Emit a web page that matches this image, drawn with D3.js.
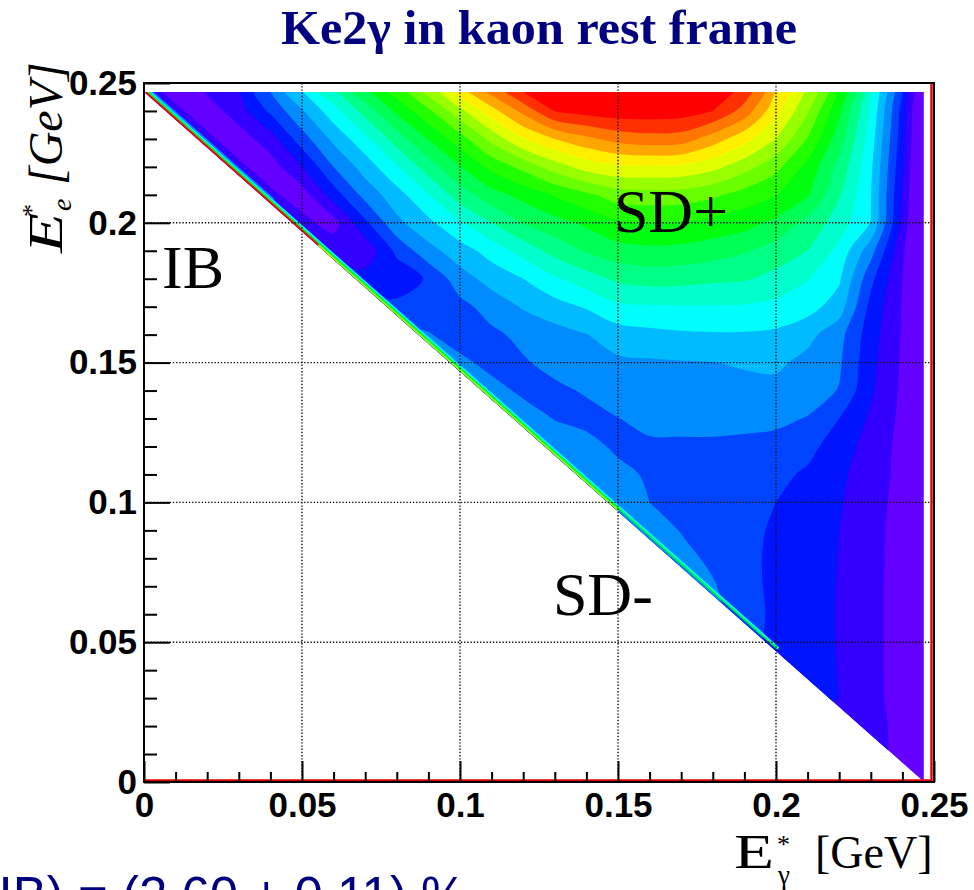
<!DOCTYPE html>
<html>
<head>
<meta charset="utf-8">
<script src="https://cdn.jsdelivr.net/npm/d3@7"></script>
<style>
  html, body { margin: 0; padding: 0; background: #fff; }
  svg { display: block; }
</style>
</head>
<body>
<svg id="chart" width="974" height="890"></svg>
<script>
// Grid nodes of the Dalitz plane in the kaon rest frame (GeV)
const eGammaNodes = [0.00, 0.01, 0.02, 0.03, 0.04, 0.05, 0.06, 0.07, 0.08, 0.09, 0.10, 0.11, 0.12,
                     0.13, 0.14, 0.15, 0.16, 0.17, 0.18, 0.19, 0.20, 0.21, 0.22, 0.23, 0.24, 0.25];
const eElectronNodes = [0.25, 0.24, 0.23, 0.22, 0.21, 0.20, 0.19, 0.18, 0.17, 0.16, 0.15, 0.14, 0.13,
                        0.12, 0.11, 0.10, 0.09, 0.08, 0.07, 0.06, 0.05, 0.04, 0.03, 0.02, 0.01, 0.00];
// Common endpoint of the photon and electron spectra
const endpoint = 0.2468;

// Density in contour-level units. One row per electron energy; each row starts at the
// node next to the kinematic boundary and runs to E_gamma = 0.25.
const ee250 = [1.3, 0.4, 1.4, 2.2, 4.4, 6.4, 8.35, 10.3, 12.05, 14.1, 16.35, 18.1, 19.8, 19.7, 20.0, 20.05, 20.05, 19.95, 19.6, 19.0, 16.25, 14.1, 11.2, 7.2, 2.75, -2.2];
const ee240 = [1.8, 1.2, 0.5, 1.5, 3.2, 4.9, 6.6, 8.4, 10.2, 11.8, 13.7, 15.6, 17.3, 19.05, 19.4, 19.6, 19.6, 19.5, 19.0, 17.6, 15.3, 13.1, 10.2, 6.85, 2.6, -2.5];
const ee230 = [1.8, 1.2, 0.5, 1.55, 3.55, 5.25, 6.7, 8.5, 10.05, 11.55, 13.3, 14.95, 16.0, 16.75, 17.36, 17.6, 17.5, 16.5, 15.35, 14.0, 11.95, 9.45, 6.5, 2.4, -2.5];
const ee220 = [1.8, 1.2, 0.5, 1.95, 4.0, 5.45, 6.9, 8.5, 9.95, 11.3, 12.3, 13.5, 14.4, 14.83, 14.9, 14.8, 14.3, 13.4, 12.3, 10.7, 8.7, 6.2, 2.15, -2.5];
const ee210 = [1.8, 1.2, 0.5, 2.5, 4.35, 5.6, 6.95, 8.5, 9.6, 10.35, 11.1, 11.8, 12.5, 12.6, 12.55, 12.2, 11.6, 11.05, 10.1, 8.1, 6.05, 1.9, -2.5];
const ee200 = [1.9, 1.3, 0.6, 2.8, 4.75, 5.75, 6.9, 8.0, 9.05, 9.65, 10.2, 10.87, 11.0, 10.95, 10.7, 10.4, 9.75, 8.7, 7.5, 5.95, 1.7, -2.5];
const ee190 = [2.1, 1.7, 1.3, 3.25, 4.65, 5.55, 6.4, 7.4, 8.35, 9.1, 9.6, 9.75, 9.7, 9.45, 9.1, 8.55, 8.0, 6.73, 4.4, 1.17, -1.5];
const ee180 = [2.6, 2.4, 2.3, 3.15, 4.55, 5.4, 6.0, 6.85, 7.55, 8.2, 8.4, 8.35, 8.2, 8.1, 7.7, 7.05, 6.15, 3.27, 1.0, -1.5];
const ee170 = [3.4, 3.3, 3.1, 3.7, 4.4, 5.1, 5.6, 6.1, 6.8, 6.9, 6.95, 6.95, 6.9, 6.7, 6.4, 5.5, 2.7, 0.95, -1.5];
const ee160 = [4.3, 4.1, 3.4, 3.8, 4.25, 4.6, 4.97, 5.5, 5.7, 5.85, 5.9, 5.9, 5.8, 5.3, 4.35, 2.45, 0.9, -1.5];
const ee150 = [4.6, 4.3, 3.6, 3.9, 4.3, 4.6, 4.81, 4.88, 4.93, 4.98, 5.1, 5.2, 4.7, 4.15, 2.3, 0.85, -1.5];
const ee140 = [4.7, 4.45, 3.75, 3.8, 4.1, 4.5, 4.6, 4.65, 4.7, 4.72, 4.7, 4.45, 3.95, 2.15, 0.8, -1.5];
const ee130 = [4.8, 4.6, 3.95, 3.7, 3.98, 4.25, 4.28, 4.28, 4.25, 4.2, 3.95, 3.0, 1.85, 0.75, -1.5];
const ee120 = [4.9, 4.7, 4.35, 3.8, 3.85, 3.85, 3.85, 3.8, 3.7, 3.3, 2.5, 1.6, 0.7, -1.5];
const ee110 = [4.9, 4.7, 4.3, 3.85, 3.7, 3.6, 3.45, 3.25, 2.85, 2.2, 1.5, 0.7, -1.3];
const ee100 = [4.9, 4.75, 4.0, 3.7, 3.5, 3.3, 3.0, 2.53, 2.09, 1.4, 0.65, -1.2];
const ee090 = [4.8, 4.5, 3.95, 3.6, 3.3, 2.85, 2.43, 2.0, 1.33, 0.6, -1.2];
const ee080 = [4.6, 4.3, 3.8, 3.25, 2.8, 2.4, 1.98, 1.3, 0.6, -1.2];
const ee070 = [4.3, 4.1, 3.35, 2.75, 2.38, 1.96, 1.28, 0.6, -1.2];
const ee060 = [4.2, 3.5, 2.75, 2.35, 1.95, 1.28, 0.6, -1.2];
const ee050 = [3.2, 2.8, 2.35, 1.96, 1.28, 0.6, -1.2];
const ee040 = [2.6, 2.38, 1.97, 1.28, 0.6, -1.2];
const ee030 = [2.3, 2.0, 1.3, 0.6, -1.2];
const ee020 = [1.8, 1.4, 0.65, -1.2];
const ee010 = [1.3, 0.7, -1.2];
const ee000 = [0.8, -1.0];
const densityRows = [ee250, ee240, ee230, ee220, ee210, ee200, ee190, ee180, ee170, ee160, ee150, ee140, ee130,
                     ee120, ee110, ee100, ee090, ee080, ee070, ee060, ee050, ee040, ee030, ee020, ee010, ee000];

// Contour levels and their colours (violet -> red)
const levelThresholds = [1, 2, 3, 4, 5, 6, 7, 8, 9, 10, 11, 12, 13, 14, 15, 16, 17, 18, 19];
const levelColors = ["#6300ff", "#3300ff", "#0014ff", "#0044ff", "#008bff", "#00bbff", "#00fffc", "#00ffcc",
                     "#00ff85", "#00ff55", "#00ff0e", "#22ff00", "#69ff00", "#99ff00", "#e0ff00", "#ffee00",
                     "#ffa700", "#ff7700", "#ff3000", "#ff0000"];

// Narrow inner-bremsstrahlung ridge along the boundary: level, E_gamma range, lane from the edge
const ridgeLevel = [19, 13, 10, 6, 4];
const ridgeFrom  = [0.000, 0.055, 0.000, 0.000, 0.000];
const ridgeTo    = [0.060, 0.150, 0.200, 0.200, 0.040];
const ridgeLane  = [0, 0, 1, 2, 3];

// Axes
const majorTicks = [0, 0.05, 0.1, 0.15, 0.2, 0.25];
const majorTickLabels = ["0", "0.05", "0.1", "0.15", "0.2", "0.25"];
const minorTicks = [0.01, 0.02, 0.03, 0.04, 0.06, 0.07, 0.08, 0.09, 0.11, 0.12, 0.13, 0.14,
                    0.16, 0.17, 0.18, 0.19, 0.21, 0.22, 0.23, 0.24];
const gridValues = [0.05, 0.1, 0.15, 0.2];

// Region names and their anchor points (E_gamma, E_e) in GeV
const regionNames = ["IB", "SD+", "SD-"];
const regionEGamma = [0.0057, 0.1487, 0.1294];
const regionEe = [0.1767, 0.1967, 0.0597];

const titleText = "Ke2\u03b3 in kaon rest frame";
const resultText = "R(SD+/IB) = (2.60 \u00b1 0.11) %";

// ---------------------------------------------------------------------------
const svg = d3.select("#chart");
const x = d3.scaleLinear().domain([0, 0.25]).range([144, 934]);
const y = d3.scaleLinear().domain([0, 0.25]).range([782, 83]);

const nx = eGammaNodes.length, ny = eElectronNodes.length;
const values = new Array(nx * ny);
densityRows.forEach((row, r) => {
  const offset = nx - row.length;          // nodes beyond the boundary repeat the first value
  for (let i = 0; i < nx; i++) values[r * nx + i] = row[Math.max(0, i - offset)];
});

// grid coordinates of d3.contours -> energies -> screen
const gx = d3.scaleLinear().domain([0.5, nx - 0.5]).range([eGammaNodes[0], eGammaNodes[nx - 1]]);
const gy = d3.scaleLinear().domain([0.5, ny - 0.5]).range([eElectronNodes[0], eElectronNodes[ny - 1]]);
const ringLine = d3.line().curve(d3.curveCatmullRomClosed.alpha(0.5));
function bandPath(contour) {
  return contour.coordinates.map(polygon => polygon.map(ring =>
    ringLine(ring.slice(0, -1).map(([u, v]) => [x(gx(u)), y(gy(v))]))
  ).join("")).join("");
}

const defs = svg.append("defs");
const boundary = [[0, endpoint], [endpoint, endpoint], [endpoint, 0]];
const boundaryPoints = boundary.map(p => [x(p[0]), y(p[1])].join(",")).join(" ");
defs.append("clipPath").attr("id", "dalitz").append("polygon").attr("points", boundaryPoints);

const plot = svg.append("g").attr("clip-path", "url(#dalitz)");
plot.append("polygon").attr("points", boundaryPoints).attr("fill", levelColors[0]);

const contours = d3.contours().size([nx, ny]).thresholds(levelThresholds)(values);
plot.selectAll("path.band")
  .data(contours)
  .join("path")
  .attr("class", "band")
  .attr("d", bandPath)
  .attr("fill-rule", "evenodd")
  .attr("fill", d => levelColors[levelThresholds.indexOf(d.value) + 1]);

// ridge along the hypotenuse
const p0 = [x(0), y(endpoint)], p1 = [x(endpoint), y(0)];
const len = Math.hypot(p1[0] - p0[0], p1[1] - p0[1]);
const normal = [(p1[1] - p0[1]) / len, -(p1[0] - p0[0]) / len];
const laneOffset = [1.1, 2.7, 4.2, 5.6];
const laneWidth = [2.2, 1.6, 1.6, 1.6];
ridgeLevel.forEach((lvl, k) => {
  const a = [x(ridgeFrom[k]), y(endpoint - ridgeFrom[k])];
  const b = [x(ridgeTo[k]), y(endpoint - ridgeTo[k])];
  const lane = ridgeLane[k];
  const o = laneOffset[lane];
  plot.append("line")
    .attr("x1", a[0] + normal[0] * o).attr("y1", a[1] + normal[1] * o)
    .attr("x2", b[0] + normal[0] * o).attr("y2", b[1] + normal[1] * o)
    .attr("stroke", levelColors[lvl]).attr("stroke-width", laneWidth[lane]);
});

// dotted grid
const grid = svg.append("g").attr("stroke", "#111").attr("stroke-width", 1.4)
  .attr("stroke-dasharray", "1.4 1.8");
grid.selectAll("line.gx").data(gridValues).join("line")
  .attr("x1", d => x(d)).attr("x2", d => x(d)).attr("y1", y(0.25)).attr("y2", y(0));
grid.selectAll("line.gy").data(gridValues).join("line")
  .attr("y1", d => y(d)).attr("y2", d => y(d)).attr("x1", x(0)).attr("x2", x(0.25));

// red histogram outline along the bottom and right side
svg.append("path")
  .attr("d", `M${x(0)},${y(0) - 1.5} H${x(0.25) - 2.5} V${y(0.25)}`)
  .attr("fill", "none").attr("stroke", "#e00000").attr("stroke-width", 2.4);

// frame
svg.append("rect")
  .attr("x", x(0)).attr("y", y(0.25))
  .attr("width", x(0.25) - x(0)).attr("height", y(0) - y(0.25))
  .attr("fill", "none").attr("stroke", "#000").attr("stroke-width", 2);

// axes
const labelFont = "bold 35px 'Liberation Sans', Arial, Helvetica, sans-serif";
function styleAxis(g) {
  g.select(".domain").remove();
  g.selectAll("line").attr("stroke", "#000").attr("stroke-width", 2);
  g.selectAll("text").style("font", labelFont).attr("fill", "#000");
}
svg.append("g").attr("transform", `translate(0,${y(0)})`)
  .call(d3.axisBottom(x).tickValues(minorTicks).tickSize(-10).tickFormat(""))
  .call(styleAxis);
svg.append("g").attr("transform", `translate(0,${y(0)})`)
  .call(d3.axisBottom(x).tickValues(majorTicks).tickSize(-21).tickPadding(10)
        .tickFormat((d, i) => majorTickLabels[i]))
  .call(styleAxis);
svg.append("g").attr("transform", `translate(${x(0)},0)`)
  .call(d3.axisLeft(y).tickValues(minorTicks).tickSize(-13).tickFormat(""))
  .call(styleAxis);
svg.append("g").attr("transform", `translate(${x(0)},0)`)
  .call(d3.axisLeft(y).tickValues(majorTicks).tickSize(-26).tickPadding(7)
        .tickFormat((d, i) => majorTickLabels[i]))
  .call(styleAxis);

// title
svg.append("text")
  .attr("x", 539).attr("y", 44).attr("text-anchor", "middle")
  .attr("textLength", 516).attr("lengthAdjust", "spacingAndGlyphs")
  .style("font", "bold 48px 'Liberation Serif', 'Times New Roman', serif")
  .attr("fill", "#000080").text(titleText);

// region names
const serif = "'Liberation Serif', 'Times New Roman', serif";
svg.selectAll("text.region").data(regionNames).join("text")
  .attr("class", "region")
  .attr("x", (d, i) => x(regionEGamma[i])).attr("y", (d, i) => y(regionEe[i]))
  .style("font-family", serif).style("font-size", "62px").attr("fill", "#000")
  .text(d => d);

// x axis title: E*_gamma [GeV]
const xt = svg.append("g").style("font-family", serif).attr("fill", "#000");
xt.append("text").attr("x", 734).attr("y", 868).style("font-size", "48px")
  .attr("textLength", 40).attr("lengthAdjust", "spacingAndGlyphs").text("E");
const xIdx = xt.append("text");
xIdx.append("tspan").attr("x", 777).attr("y", 853).style("font-size", "26px").text("*");
xIdx.append("tspan").attr("x", 778).attr("y", 884).style("font-size", "27px").text("\u03b3");
xt.append("text").attr("x", 815).attr("y", 868).style("font-size", "46px").text("[GeV]");

// y axis title: E*_e [GeV]
const yt = svg.append("g").attr("transform", "translate(62,253) rotate(-90)")
  .style("font-family", serif).style("font-style", "italic").attr("fill", "#000");
yt.append("text").attr("x", 0).attr("y", 0).style("font-size", "48px")
  .attr("textLength", 40).attr("lengthAdjust", "spacingAndGlyphs").text("E");
const yIdx = yt.append("text");
yIdx.append("tspan").attr("x", 36).attr("y", -22).style("font-size", "26px").style("font-style", "normal").text("*");
yIdx.append("tspan").attr("x", 42).attr("y", 9).style("font-size", "28px").text("e");
yt.append("text").attr("x", 68).attr("y", 0).style("font-size", "48px").text("[GeV]");

// result line at the foot of the page
svg.append("text")
  .attr("x", -170).attr("y", 913)
  .style("font", "51px 'Liberation Sans', Arial, Helvetica, sans-serif")
  .attr("fill", "#000080").text(resultText);
</script>
</body>
</html>
